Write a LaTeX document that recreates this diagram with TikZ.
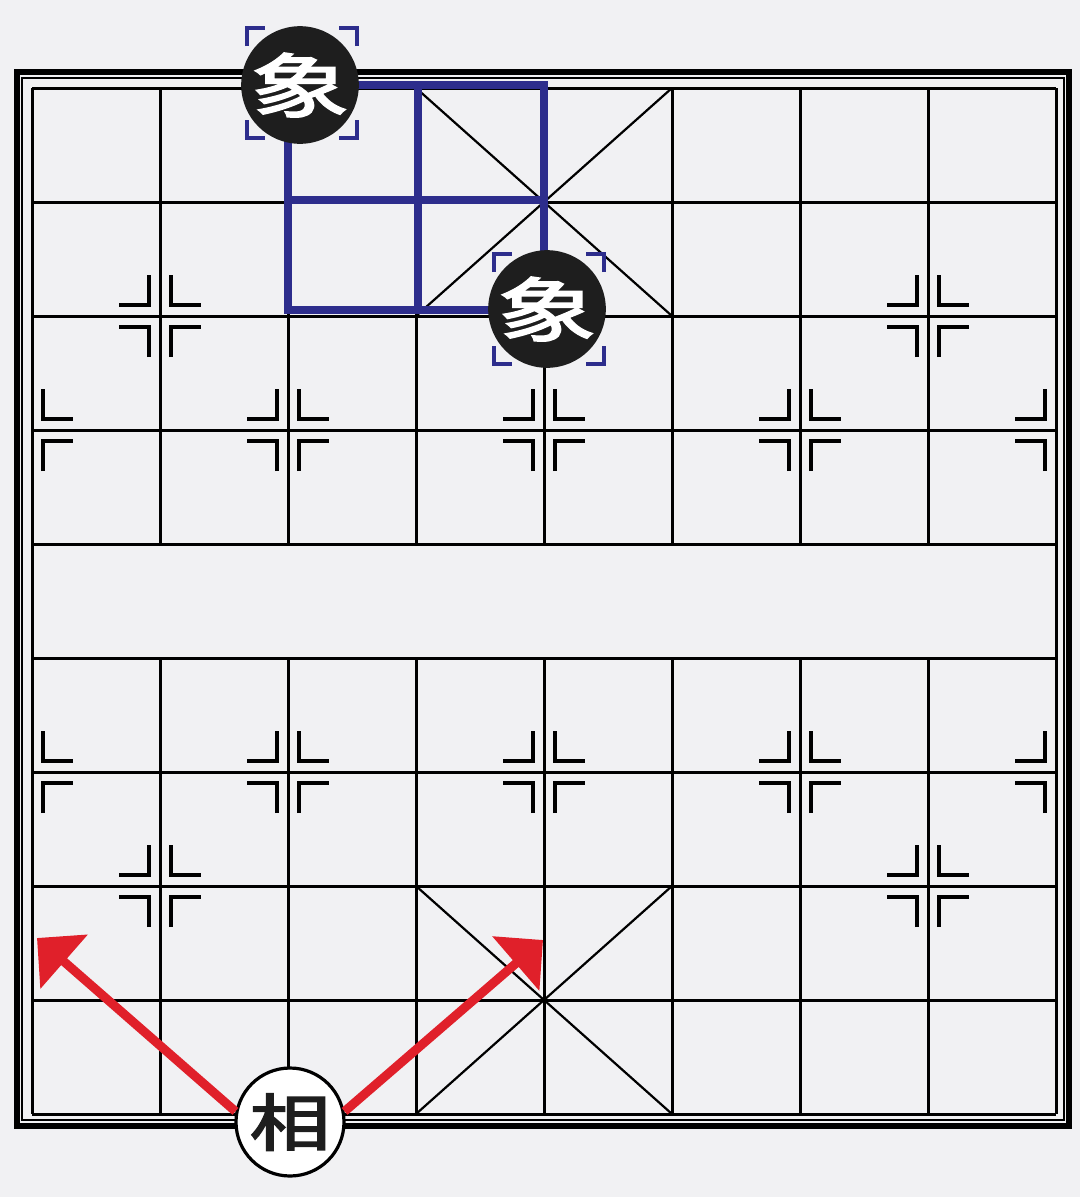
\documentclass[tikz,border=0pt]{standalone}
\usepackage{fontspec}
\newfontfamily\cjkb{Noto Sans CJK SC}[FakeBold=2.5]
\usetikzlibrary{arrows.meta}
\definecolor{bgc}{HTML}{F1F1F3}
\definecolor{navy}{HTML}{2D2D8C}
\definecolor{arrred}{HTML}{E0202A}
\definecolor{piecek}{HTML}{1E1E1E}
\newcommand\mkR[2]{\draw[mk] ({#1+11},{#2-41}) -- ({#1+11},{#2-11}) -- ({#1+41},{#2-11});
  \draw[mk] ({#1+11},{#2+41}) -- ({#1+11},{#2+11}) -- ({#1+41},{#2+11});}
\newcommand\mkL[2]{\draw[mk] ({#1-11},{#2-41}) -- ({#1-11},{#2-11}) -- ({#1-41},{#2-11});
  \draw[mk] ({#1-11},{#2+41}) -- ({#1-11},{#2+11}) -- ({#1-41},{#2+11});}
\newcommand\brk[2]{\draw[brkline] ({#1-55},{#2-37}) -- ({#1-55},{#2-55}) -- ({#1-37},{#2-55});
  \draw[brkline] ({#1+55},{#2-37}) -- ({#1+55},{#2-55}) -- ({#1+37},{#2-55});
  \draw[brkline] ({#1-55},{#2+37}) -- ({#1-55},{#2+55}) -- ({#1-37},{#2+55});
  \draw[brkline] ({#1+55},{#2+37}) -- ({#1+55},{#2+55}) -- ({#1+37},{#2+55});}
\begin{document}
\begin{tikzpicture}[x=1pt,y=-1pt,
  gridline/.style={line width=3pt,black},
  diag/.style={line width=2.2pt,black},
  mk/.style={line width=3.2pt,black},
  blueline/.style={line width=7.5pt,navy},
  brkline/.style={line width=3.5pt,navy},
  redarrow/.style={line width=9pt,arrred,-{Triangle[length=36pt,width=70pt]}},
  blackpiece/.style={circle,fill=piecek,inner sep=0pt,minimum size=114pt,text=white},
  redpiece/.style={circle,fill=white,draw=black,line width=3.2pt,inner sep=0pt,minimum size=108pt,text=piecek}]
\fill[bgc] (0,0) rectangle (1080,1197);
\useasboundingbox (0,0) rectangle (1080,1197);
% frame
\draw[line width=6pt,black] (16.5,72) rectangle (1068.5,1125.5);
\draw[line width=2pt,black] (22,78) rectangle (1063.5,1120);
% horizontal grid
\foreach \j in {0,...,9} \draw[gridline] (32,{88+114*\j}) -- (1056,{88+114*\j});
% vertical grid
\draw[gridline] (32,88) -- (32,1114);
\draw[gridline] (1056,88) -- (1056,1114);
\foreach \i in {1,...,7} {
  \draw[gridline] ({32+128*\i},88) -- ({32+128*\i},544);
  \draw[gridline] ({32+128*\i},658) -- ({32+128*\i},1114);
}
% palaces
\draw[diag] (416,88) -- (672,316);
\draw[diag] (672,88) -- (416,316);
\draw[diag] (416,886) -- (672,1114);
\draw[diag] (672,886) -- (416,1114);
% position markers
\mkL{160}{316}\mkR{160}{316}
\mkL{928}{316}\mkR{928}{316}
\mkR{32}{430}
\mkL{288}{430}\mkR{288}{430}
\mkL{544}{430}\mkR{544}{430}
\mkL{800}{430}\mkR{800}{430}
\mkL{1056}{430}
\mkR{32}{772}
\mkL{288}{772}\mkR{288}{772}
\mkL{544}{772}\mkR{544}{772}
\mkL{800}{772}\mkR{800}{772}
\mkL{1056}{772}
\mkL{160}{886}\mkR{160}{886}
\mkL{928}{886}\mkR{928}{886}
% blue highlighted squares
\draw[blueline] (288,85) rectangle (544,310);
\draw[blueline] (418,85) -- (418,310);
\draw[blueline] (288,200) -- (544,200);
% brackets
\brk{302}{83}
\brk{549}{309}
% black pieces
\node[blackpiece] (e1) at (300,85) {\cjkb\fontsize{76}{76}\selectfont\scalebox{1.3}[0.92]{象}};
\node[blackpiece] (e2) at (547,309) {\cjkb\fontsize{76}{76}\selectfont\scalebox{1.3}[0.92]{象}};
% red piece and arrows
\coordinate (t1) at (37,938);
\coordinate (t2) at (543,940);
\node[redpiece] (xiang) at (290,1122) {\cjkb\fontsize{62}{62}\selectfont\scalebox{1.3}[1.0]{相}};
\draw[redarrow] (xiang.169) -- (t1);
\draw[redarrow] (xiang.11) -- (t2);
\end{tikzpicture}
\end{document}
